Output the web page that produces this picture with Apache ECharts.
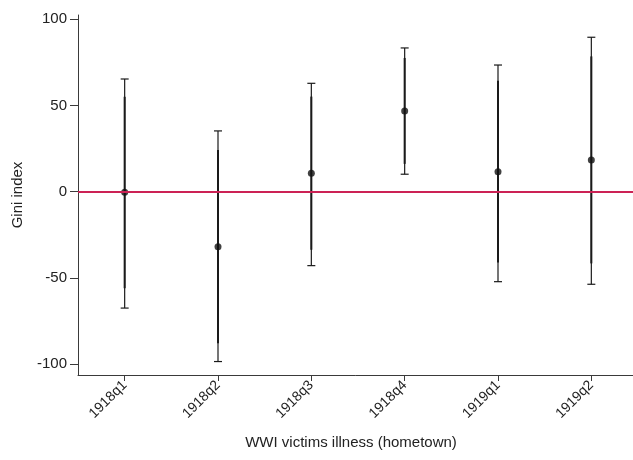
<!DOCTYPE html>
<html>
<head>
<meta charset="utf-8">
<script src="https://cdn.jsdelivr.net/npm/echarts@6/dist/echarts.min.js"></script>
<style>
  html, body { margin: 0; padding: 0; background: #ffffff; }
  #chart { width: 633px; height: 460px; }
</style>
</head>
<body>
<div id="chart"></div>
<script>
// Quarters of WWI victims' illness in the hometown
const quarters = ['1918q1', '1918q2', '1918q3', '1918q4', '1919q1', '1919q2'];
// Point estimates (Gini index)
const coef = [-0.3, -31.9, 10.7, 46.8, 11.6, 18.4];
// 95% confidence bounds
const ci95Low = [-67.5, -98.5, -42.9, 10.1, -52.2, -53.7];
const ci95High = [65.3, 35.2, 62.8, 83.3, 73.4, 89.5];
// 90% confidence bounds
const ci90Low = [-56.0, -87.9, -33.7, 16.1, -41.1, -41.6];
const ci90High = [55.0, 24.1, 55.1, 77.5, 64.3, 78.4];
// Y-axis tick labels
const yTicks = [-100, -50, 0, 50, 100];

const FONT = 'Liberation Sans, Arial, Helvetica, sans-serif';
const AXIS_COLOR = '#3a3a3a';
const TEXT_COLOR = '#222222';

const intervalData = quarters.map((q, i) => [i, ci95Low[i], ci95High[i], ci90Low[i], ci90High[i]]);
const pointData = quarters.map((q, i) => [i, coef[i]]);

const chart = echarts.init(document.getElementById('chart'), null, { renderer: 'canvas' });

chart.setOption({
  backgroundColor: '#ffffff',
  animation: false,
  grid: { left: 78, top: 15, right: -5, bottom: 85, containLabel: false, outerBoundsMode: 'none' },
  xAxis: {
    type: 'category',
    data: quarters,
    boundaryGap: true,
    name: 'WWI victims illness (hometown)',
    nameLocation: 'middle',
    nameGap: 60,
    nameTextStyle: { fontFamily: FONT, fontSize: 15, color: TEXT_COLOR, padding: [0, 14, 0, 0] },
    axisLine: { show: true, onZero: false, lineStyle: { color: AXIS_COLOR, width: 1 } },
    axisTick: { show: true, alignWithLabel: true, length: 6, lineStyle: { color: AXIS_COLOR } },
    axisLabel: { rotate: 45, margin: 8, fontFamily: FONT, fontSize: 14, color: TEXT_COLOR, interval: 0 },
    splitLine: { show: false }
  },
  yAxis: {
    type: 'value',
    min: -106.3,
    max: 102.4,
    name: 'Gini index',
    nameLocation: 'middle',
    nameGap: 53,
    nameRotate: 90,
    nameTextStyle: { fontFamily: FONT, fontSize: 15, color: TEXT_COLOR },
    axisLine: { show: true, onZero: false, lineStyle: { color: AXIS_COLOR, width: 1 } },
    axisTick: { show: true, length: 8, customValues: yTicks, lineStyle: { color: AXIS_COLOR } },
    axisLabel: { margin: 11, fontFamily: FONT, fontSize: 15, color: TEXT_COLOR, customValues: yTicks },
    splitLine: { show: false }
  },
  series: [
    {
      // confidence interval bars: thin 95% with caps, thicker 90% inner segment
      type: 'custom',
      data: intervalData,
      z: 2,
      renderItem: function (params, api) {
        const x = api.value(0);
        const lo95 = api.coord([x, api.value(1)]);
        const hi95 = api.coord([x, api.value(2)]);
        const lo90 = api.coord([x, api.value(3)]);
        const hi90 = api.coord([x, api.value(4)]);
        const cap = 4;
        const thin = { stroke: '#1a1a1a', lineWidth: 1.2 };
        const thick = { stroke: '#1a1a1a', lineWidth: 2 };
        return {
          type: 'group',
          children: [
            { type: 'line', shape: { x1: lo95[0], y1: lo95[1], x2: hi95[0], y2: hi95[1] }, style: thin },
            { type: 'line', shape: { x1: lo95[0] - cap, y1: lo95[1], x2: lo95[0] + cap, y2: lo95[1] }, style: thin },
            { type: 'line', shape: { x1: hi95[0] - cap, y1: hi95[1], x2: hi95[0] + cap, y2: hi95[1] }, style: thin },
            { type: 'line', shape: { x1: lo90[0], y1: lo90[1], x2: hi90[0], y2: hi90[1] }, style: thick }
          ]
        };
      }
    },
    {
      // reference line at zero
      type: 'line',
      data: [],
      z: 3,
      markLine: {
        silent: true,
        symbol: ['none', 'none'],
        label: { show: false },
        lineStyle: { color: '#cc2255', width: 1.8, type: 'solid' },
        data: [{ yAxis: 0 }]
      }
    },
    {
      // point estimates
      type: 'scatter',
      data: pointData,
      z: 4,
      symbol: 'circle',
      symbolSize: 7,
      itemStyle: { color: '#111111' }
    }
  ]
});
</script>
</body>
</html>
